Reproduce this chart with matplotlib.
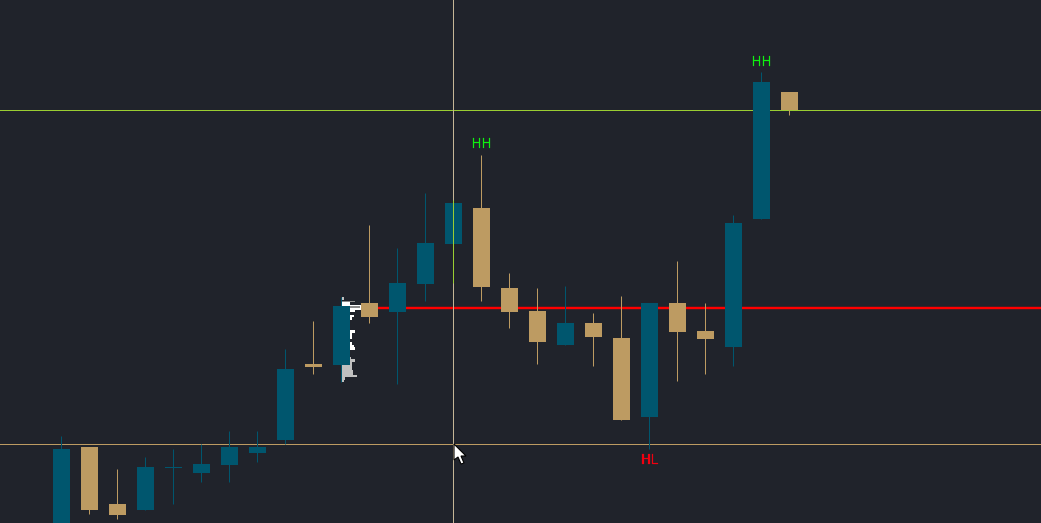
import matplotlib
matplotlib.use('Agg')
import matplotlib.pyplot as plt
import matplotlib.patheffects as pe
from matplotlib.patches import Polygon
import numpy as np

# candles, price units are pixels above the bottom edge of the chart
opens = [-7, 76, 19, 13, 55, 50, 58, 70, 83, 159, 158, 220, 211, 239, 279, 315, 235, 212, 178, 200, 185, 106, 220, 192, 176, 304, 431]
closes = [74, 13, 8, 56, 56, 59, 76, 76, 154, 156, 217, 206, 240, 280, 320, 236, 211, 181, 200, 186, 103, 220, 191, 184, 300, 441, 413]
highs = [87, 76, 54, 66, 74, 79, 92, 92, 174, 202, 226, 298, 275, 330, 323, 368, 250, 235, 237, 210, 227, 220, 262, 220, 308, 451, 431]
lows = [-12, 9, 4, 13, 19, 41, 41, 61, 79, 149, 141, 200, 139, 222, 240, 222, 195, 159, 178, 157, 103, 74, 142, 149, 157, 304, 408]

# swing labels: bar index, price, text
label_bars = [15, 21, 25]
label_prices = [378.5, 62.5, 460.5]
label_texts = ['HH', 'HL', 'HH']
label_colors = ['#10f010', '#f00010', '#10f010']

# horizontal levels
green_level = 413
tan_level = 79
red_level = 215
crosshair_bar = 14

# volume profile attached to bar 10: row bottom, row height, width in bars
profile_white_y = [218, 213, 211, 206, 203, 190, 187, 184, 178, 176, 173]
profile_white_h = [3, 5, 2, 2, 3, 3, 3, 3, 3, 2, 3]
profile_white_w = [0.30, 0.68, 0.47, 0.45, 0.38, 0.47, 0.39, 0.36, 0.39, 0.43, 0.47]
profile_gray_y = [223, 163, 161, 153, 148, 146, 143, 141]
profile_gray_h = [3, 3, 3, 8, 5, 2, 3, 2]
profile_gray_w = [0.09, 0.34, 0.48, 0.37, 0.41, 0.55, 0.12, 0.09]
profile_dim_y = [221, 215]
profile_dim_h = [1, 2]
profile_dim_w = [0.48, 0.66]

BG = '#20232b'
BLUE = '#00566e'
TAN = '#bd9b62'

fig = plt.figure(figsize=(10.41, 5.23), dpi=100, facecolor=BG)
ax = fig.add_axes([0, 0, 1, 1], facecolor=BG)
step = 28.0
ax.set_xlim(-61.5 / step, (1041 - 61.5) / step)
ax.set_ylim(0, 523)
ax.axis('off')

x = np.arange(len(opens))
up = np.array(closes) > np.array(opens)
colors = [BLUE if u else TAN for u in up]
px = 0.72  # one pixel in points
wick_shift = 0.5 / step

ax.axhline(tan_level, color=TAN, lw=px, zorder=1)
ax.axhline(green_level, color='#9acd32', lw=px, zorder=1)
ax.hlines(red_level, 10.7, 40, color='#ff0000', lw=2.4 * px, zorder=1)

# volume profile sits behind the bars
ax.barh(profile_white_y, profile_white_w, height=profile_white_h, left=10, align='edge',
        color='white', zorder=2)
ax.barh(profile_gray_y, profile_gray_w, height=profile_gray_h, left=10, align='edge',
        color='#c0c0c0', zorder=2)
ax.barh(profile_dim_y, profile_dim_w, height=profile_dim_h, left=10, align='edge',
        color='#8a8a8a', zorder=2)

ax.vlines(x - wick_shift, lows, highs, colors=colors, lw=px, zorder=3)
bottoms = np.minimum(opens, closes)
heights = np.maximum(np.abs(np.array(closes) - np.array(opens)), 1)
ax.bar(x, heights, bottom=bottoms, width=17 / step, color=colors, zorder=4)

# crosshair, it turns green where it runs over the wick of its bar
ax.axvline(crosshair_bar - wick_shift, color='#c4b596', lw=px, zorder=5)
ax.vlines(crosshair_bar - wick_shift, lows[crosshair_bar], highs[crosshair_bar],
          color='#9acd32', lw=px, zorder=5)

for bar, price, text, col in zip(label_bars, label_prices, label_texts, label_colors):
    t = ax.text(bar, price, text, color=col, fontsize=9.5, ha='center', va='center', zorder=6)
    t.set_path_effects([pe.withStroke(linewidth=0.15, foreground=col)])

# mouse pointer, in pixels from the top left corner
cursor = np.array([[454, 444], [454, 460], [458, 457], [461, 464], [464, 463], [461, 456], [466, 456]], dtype=float)
cursor[:, 1] = 523 - cursor[:, 1]
ax.add_patch(Polygon(cursor, closed=True, transform=None, facecolor='white', edgecolor='black', lw=0.8, zorder=7))

fig.savefig('out.png', dpi=100, facecolor=BG)
